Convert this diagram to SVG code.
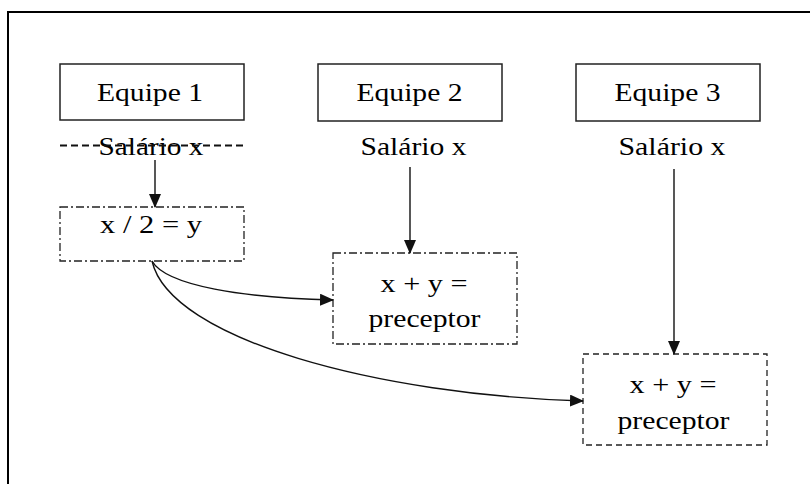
<svg xmlns="http://www.w3.org/2000/svg" width="810" height="484" viewBox="0 0 810 484">
<style>
text{font-family:"Liberation Serif","Times New Roman",serif;font-size:25px;fill:#000;text-anchor:middle}
.solid{fill:#fff;stroke:#222;stroke-width:1.5}
.dd{fill:#fff;stroke:#222;stroke-width:1.3;stroke-dasharray:8 3 2 3}
.dash{fill:#fff;stroke:#222;stroke-width:1.3;stroke-dasharray:6 4}
.conn{fill:none;stroke:#111;stroke-width:1.4}
</style>
<defs>
<marker id="ah" viewBox="0 0 14 12" refX="13" refY="6" markerWidth="14" markerHeight="12" markerUnits="userSpaceOnUse" orient="auto">
<path d="M0,0 L14,6 L0,12 Z" fill="#111"/>
</marker>
</defs>
<rect width="810" height="484" fill="#fff"/>
<path d="M8,484 L8,12 L810,12" fill="none" stroke="#000" stroke-width="2"/>

<g id="equipe1">
<rect class="solid" x="60" y="64" width="184" height="56"/>
<text x="150" y="101" textLength="106" lengthAdjust="spacingAndGlyphs">Equipe 1</text>
</g>
<g id="salario1">
<text x="151" y="155" textLength="105" lengthAdjust="spacingAndGlyphs">Salário x</text>
<line x1="60" y1="145.5" x2="244" y2="145.5" stroke="#111" stroke-width="2" stroke-dasharray="7 4"/>
</g>
<g id="equipe2">
<rect class="solid" x="318" y="64" width="184" height="57"/>
<text x="409.5" y="101" textLength="106" lengthAdjust="spacingAndGlyphs">Equipe 2</text>
</g>
<g id="salario2">
<text x="413.5" y="155" textLength="106" lengthAdjust="spacingAndGlyphs">Salário x</text>
</g>
<g id="equipe3">
<rect class="solid" x="576" y="64" width="184" height="57"/>
<text x="667.5" y="101" textLength="106" lengthAdjust="spacingAndGlyphs">Equipe 3</text>
</g>
<g id="salario3">
<text x="672" y="155" textLength="107" lengthAdjust="spacingAndGlyphs">Salário x</text>
</g>
<g id="calc1">
<rect class="dd" x="60" y="207" width="184" height="54"/>
<text x="151" y="233" textLength="102" lengthAdjust="spacingAndGlyphs">x / 2 = y</text>
</g>
<g id="calc2">
<rect class="dd" x="333" y="253" width="184" height="91"/>
<text x="424" y="292" textLength="87" lengthAdjust="spacingAndGlyphs">x + y =</text>
<text x="424.5" y="327" textLength="112" lengthAdjust="spacingAndGlyphs">preceptor</text>
</g>
<g id="calc3">
<rect class="dash" x="583" y="354" width="184" height="91"/>
<text x="673" y="393" textLength="87" lengthAdjust="spacingAndGlyphs">x + y =</text>
<text x="673.5" y="429" textLength="112" lengthAdjust="spacingAndGlyphs">preceptor</text>
</g>

<g id="connectors">
<line class="conn" x1="155" y1="160" x2="155" y2="207" marker-end="url(#ah)"/>
<line class="conn" x1="410" y1="167" x2="410" y2="253" marker-end="url(#ah)"/>
<line class="conn" x1="674" y1="169" x2="674" y2="354" marker-end="url(#ah)"/>
<path class="conn" d="M152,261 C166,286 245,298 333,300" marker-end="url(#ah)"/>
<path class="conn" d="M152,261 C170,340 380,395 583,401" marker-end="url(#ah)"/>
</g>
</svg>
